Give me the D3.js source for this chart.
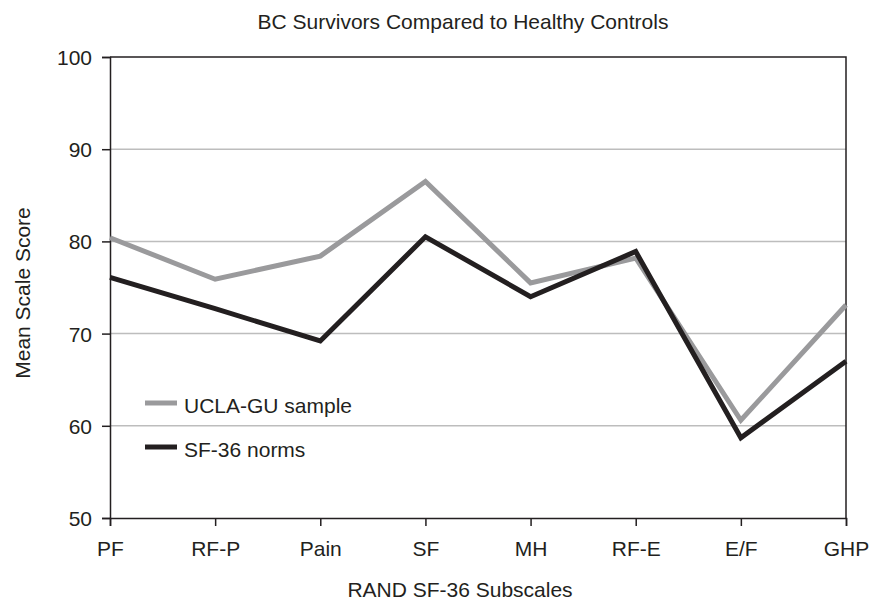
<!DOCTYPE html>
<html>
<head>
<meta charset="utf-8">
<script src="https://cdn.jsdelivr.net/npm/d3@7"></script>
<style>
  body { margin: 0; background: #fff; }
  text { font-family: "Liberation Sans", Arial, sans-serif; fill: #231f20; }
</style>
</head>
<body>
<div id="chart"></div>
<script>
var subscales = ["PF", "RF-P", "Pain", "SF", "MH", "RF-E", "E/F", "GHP"];
var uclaSample = [80.4, 75.9, 78.4, 86.5, 75.5, 78.2, 60.6, 73.1];
var sfNorms = [76.1, 72.7, 69.2, 80.5, 74.0, 78.9, 58.7, 67.0];
var yTicks = [50, 60, 70, 80, 90, 100];

var width = 870, height = 603;
var plotLeft = 110, plotRight = 846, plotTop = 57, plotBottom = 518;

var svg = d3.select("#chart").append("svg")
  .attr("width", width)
  .attr("height", height);

var x = d3.scalePoint()
  .domain(subscales)
  .range([plotLeft, plotRight]);

var y = d3.scaleLinear()
  .domain([50, 100])
  .range([plotBottom, plotTop]);

// gridlines
svg.append("g")
  .selectAll("line")
  .data(yTicks.filter(function(d) { return d > 50 && d < 100; }))
  .enter().append("line")
  .attr("x1", plotLeft).attr("x2", plotRight)
  .attr("y1", function(d) { return y(d); })
  .attr("y2", function(d) { return y(d); })
  .style("stroke", "#bdbdbd")
  .style("stroke-width", 1.5);

// top and right frame
svg.append("path")
  .attr("d", "M" + plotLeft + "," + y(100) + "H" + plotRight + "V" + y(50))
  .style("fill", "none")
  .style("stroke", "#231f20")
  .style("stroke-width", 1.5);

var yAxis = svg.append("g")
  .attr("transform", "translate(" + plotLeft + ",0)")
  .call(d3.axisLeft(y).tickValues(yTicks).tickSize(8).tickPadding(10));

var xAxis = svg.append("g")
  .attr("transform", "translate(0," + plotBottom + ")")
  .call(d3.axisBottom(x).tickSize(8).tickPadding(10));

[yAxis, xAxis].forEach(function(ax) {
  ax.select(".domain").style("stroke", "#231f20").style("stroke-width", 1.5);
  ax.selectAll(".tick line").style("stroke", "#231f20").style("stroke-width", 1.5);
  ax.selectAll("text")
    .style("font-family", '"Liberation Sans", Arial, sans-serif')
    .style("font-size", "21px")
    .style("fill", "#231f20");
});
yAxis.selectAll("text").attr("dy", "0.36em");
xAxis.selectAll("text").attr("dy", "0.95em");

var line = d3.line()
  .x(function(d, i) { return x(subscales[i]); })
  .y(function(d) { return y(d); });

svg.append("path")
  .datum(uclaSample)
  .attr("d", line)
  .style("fill", "none")
  .style("stroke", "#9a9a9c")
  .style("stroke-width", 5);

svg.append("path")
  .datum(sfNorms)
  .attr("d", line)
  .style("fill", "none")
  .style("stroke", "#231f20")
  .style("stroke-width", 5);

// legend
var legend = [
  {name: "UCLA-GU sample", color: "#9a9a9c", y: 403},
  {name: "SF-36 norms", color: "#231f20", y: 447}
];
var leg = svg.append("g").selectAll("g")
  .data(legend)
  .enter().append("g");
leg.append("line")
  .attr("x1", 145).attr("x2", 177)
  .attr("y1", function(d) { return d.y; })
  .attr("y2", function(d) { return d.y; })
  .style("stroke", function(d) { return d.color; })
  .style("stroke-width", 5);
leg.append("text")
  .attr("x", 184)
  .attr("y", function(d) { return d.y + 10; })
  .style("font-size", "21px")
  .text(function(d) { return d.name; });

// titles
svg.append("text")
  .attr("x", 463).attr("y", 29)
  .attr("text-anchor", "middle")
  .style("font-size", "21px")
  .text("BC Survivors Compared to Healthy Controls");

svg.append("text")
  .attr("x", 460).attr("y", 597)
  .attr("text-anchor", "middle")
  .style("font-size", "21px")
  .text("RAND SF-36 Subscales");

svg.append("text")
  .attr("transform", "translate(30,293) rotate(-90)")
  .attr("text-anchor", "middle")
  .style("font-size", "21px")
  .text("Mean Scale Score");
</script>
</body>
</html>
